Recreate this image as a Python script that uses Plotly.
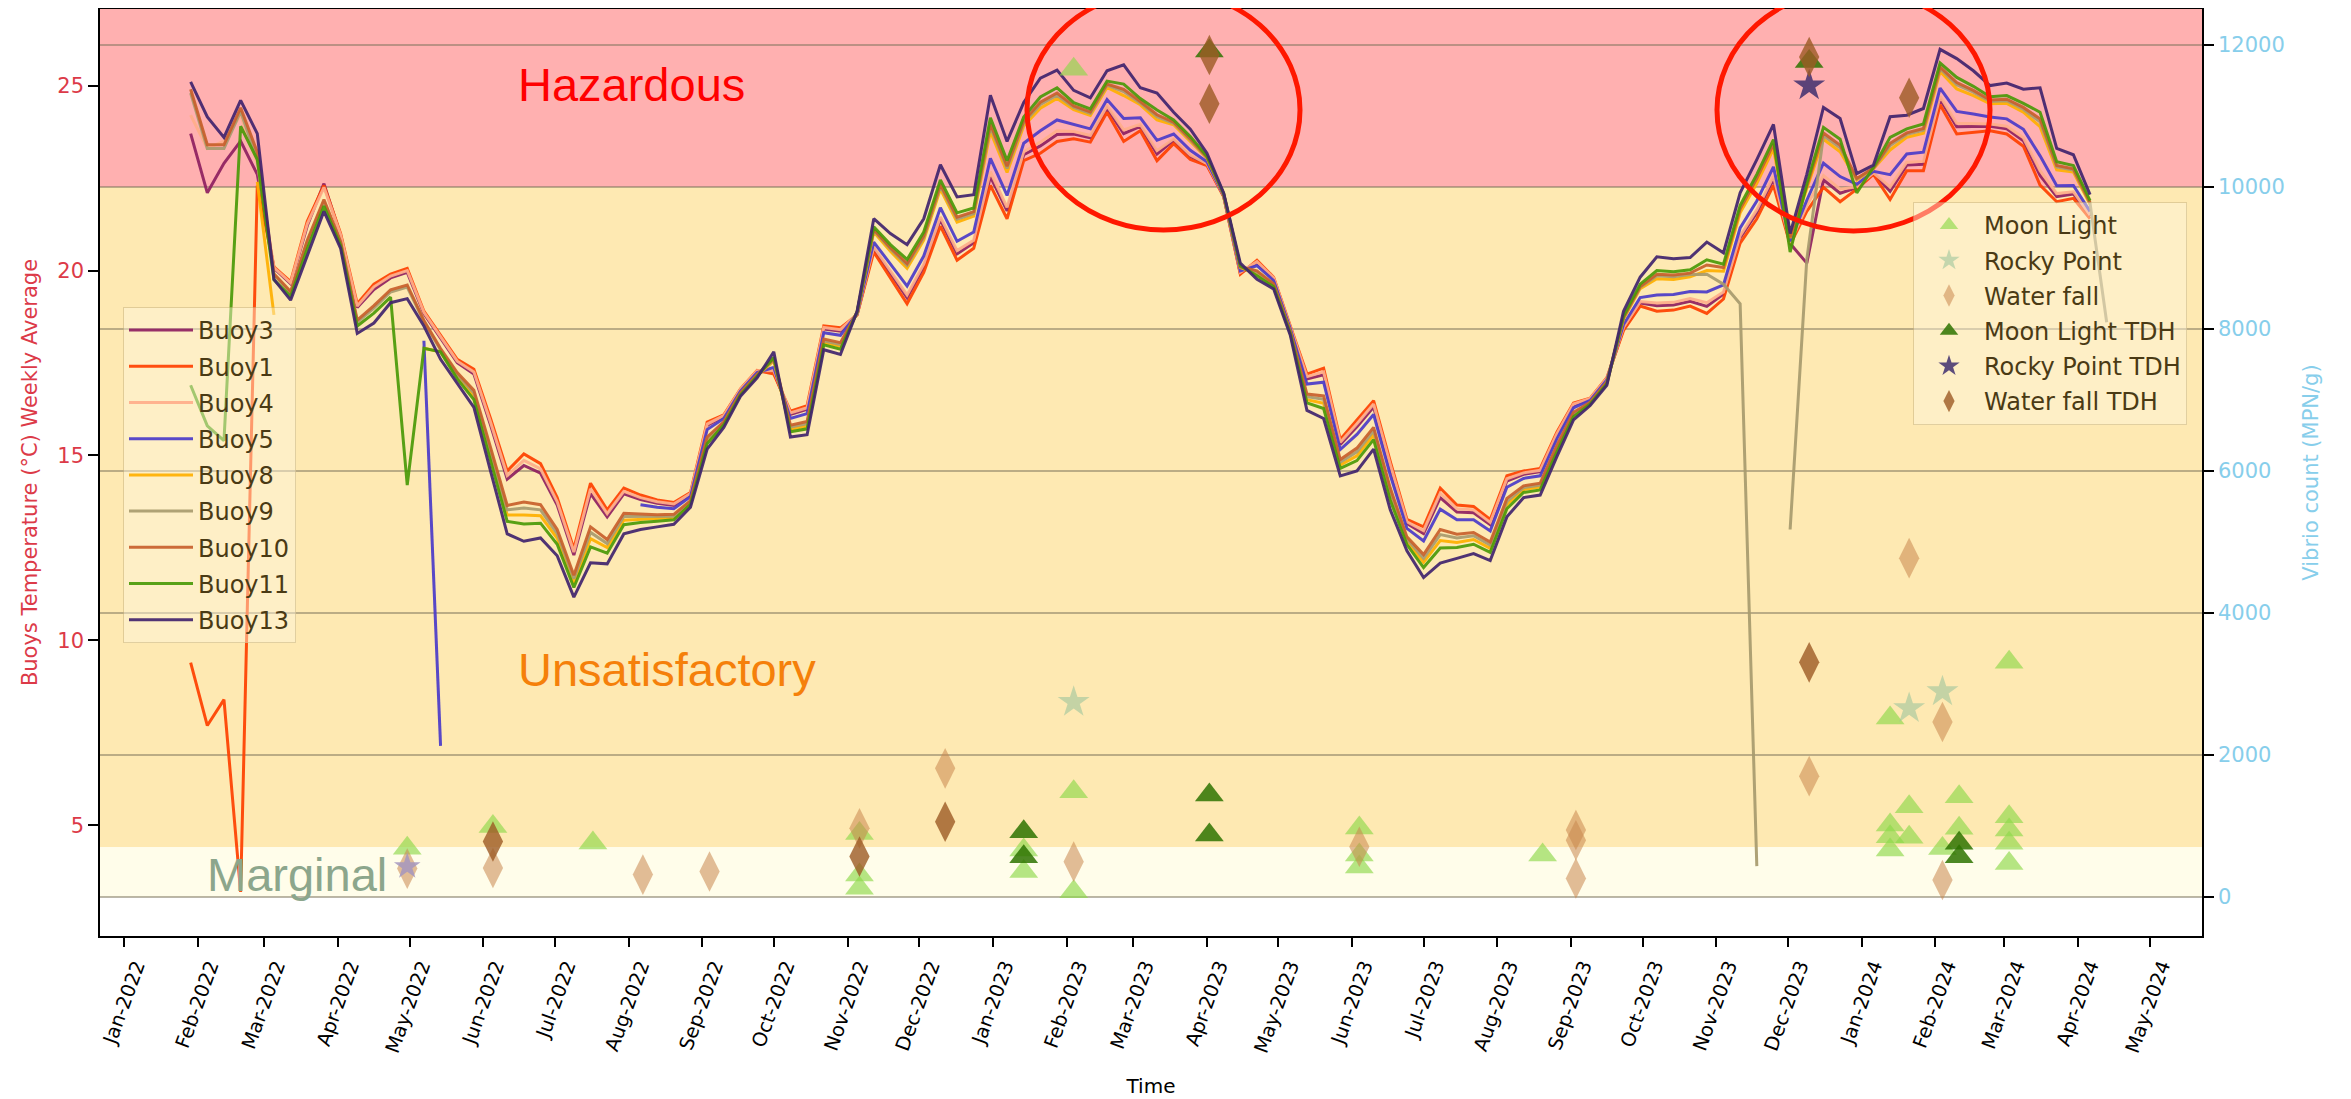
import plotly.graph_objects as go
import pandas as pd

# ---------------- data ----------------
weeks = pd.date_range("2022-01-29", periods=116, freq="7D")

buoy3 = [23.7, 22.1, 22.9, 23.5, 22.6, 20.06, 19.64, 21.21, 22.35, 20.95,
         19.0, 19.49, 19.8, 19.95, 18.84, 18.17, 17.51, 17.2, 15.82, 14.36,
         14.73, 14.52, 13.66, 12.31, 13.97, 13.34, 13.96, 13.81, 13.71, 13.65,
         13.95, 15.81, 16.06, 16.77, 17.27, 17.26, 16.11, 16.25, 18.42, 18.36,
         18.81, 20.59, 19.92, 19.26, 20.1, 21.37, 20.45, 20.75, 22.54, 21.61,
         23.13, 23.37, 23.68, 23.69, 23.59, 24.39, 23.7, 23.9, 23.15, 23.52,
         23.08, 22.87, 22.01, 19.93, 20.21, 19.78, 18.47, 17.07, 17.18, 15.3,
         15.78, 16.31, 14.67, 13.16, 12.89, 13.86, 13.47, 13.45, 13.13, 14.31,
         14.49, 14.56, 15.54, 16.36, 16.52, 17.07, 18.43, 19.12, 19.05, 19.07,
         19.17, 19.03, 19.36, 20.88, 21.56, 22.47, 20.73, 20.2, 22.45, 22.09,
         22.24, 22.63, 22.14, 22.85, 22.87, 24.63, 23.89, 23.9, 23.9, 23.83,
         23.51, 22.57, 22.0, 22.07, 21.47, None]

buoy1 = [9.4, 7.7, 8.4, 3.2, 22.3, 20.1, 19.7, 21.33, 22.3, 21.0,
         19.1, 19.63, 19.9, 20.06, 18.9, 18.25, 17.6, 17.33, 16.0, 14.58,
         15.04, 14.78, 13.86, 12.48, 14.25, 13.53, 14.12, 13.93, 13.8, 13.73,
         14.0, 15.9, 16.1, 16.8, 17.3, 17.2, 16.2, 16.35, 18.5, 18.45,
         18.8, 20.5, 19.8, 19.1, 19.95, 21.2, 20.28, 20.6, 22.3, 21.4,
         22.97, 23.17, 23.49, 23.56, 23.47, 24.28, 23.49, 23.78, 22.97, 23.43,
         23.0, 22.84, 22.0, 19.9, 20.28, 19.82, 18.5, 17.2, 17.36, 15.43,
         15.96, 16.48, 14.84, 13.27, 13.07, 14.12, 13.66, 13.62, 13.27, 14.45,
         14.58, 14.65, 15.63, 16.42, 16.55, 17.1, 18.38, 19.04, 18.9, 18.93,
         19.04, 18.84, 19.23, 20.74, 21.4, 22.3, 20.7, 21.6, 22.25, 21.86,
         22.2, 22.6, 21.92, 22.7, 22.7, 24.48, 23.69, 23.73, 23.78, 23.69,
         23.36, 22.31, 21.86, 21.95, 21.4, None]

buoy4 = [24.2, 23.3, 23.5, 24.2, 22.9, 20.08, 19.67, 21.26, 22.25, 20.97,
         19.04, 19.56, 19.85, 20.0, 18.87, 18.2, 17.55, 17.26, 15.9, 14.46,
         14.87, 14.64, 13.75, 12.39, 14.1, 13.43, 14.03, 13.86, 13.75, 13.69,
         13.97, 15.85, 16.08, 16.79, 17.29, 17.29, 16.15, 16.29, 18.46, 18.4,
         18.82, 20.64, 19.98, 19.34, 20.17, 21.45, 20.54, 20.82, 22.67, 21.71,
         23.21, 23.47, 23.78, 23.76, 23.65, 24.45, 23.8, 23.95, 23.24, 23.56,
         23.12, 22.89, 22.02, 19.95, 20.24, 19.8, 18.48, 17.13, 17.26, 15.36,
         15.86, 16.39, 14.75, 13.21, 12.97, 13.98, 13.56, 13.53, 13.19, 14.37,
         14.53, 14.6, 15.58, 16.39, 16.54, 17.09, 18.46, 19.16, 19.12, 19.14,
         19.24, 19.13, 19.42, 20.94, 21.64, 22.55, 20.75, 21.75, 22.57, 22.2,
         22.26, 22.64, 22.26, 22.93, 22.95, 24.71, 23.98, 23.98, 23.96, 23.9,
         23.59, 22.7, 22.08, 22.13, 21.5, None]

buoy5 = [None, None, None, None, None, None, None, None, None, None,
         None, None, None, None, 18.1, 7.15, None, None, None, None,
         None, None, None, None, None, None, None, 13.67, 13.6, 13.56,
         13.89, 15.7, 16.0, 16.74, 17.24, 17.38, 16.0, 16.13, 18.32, 18.25,
         18.83, 20.77, 20.16, 19.58, 20.39, 21.7, 20.79, 21.04, 23.03, 22.03,
         23.44, 23.78, 24.07, 23.95, 23.83, 24.62, 24.11, 24.13, 23.52, 23.69,
         23.25, 22.94, 22.03, 19.99, 20.13, 19.73, 18.43, 16.93, 16.98, 15.16,
         15.57, 16.11, 14.47, 13.03, 12.69, 13.55, 13.26, 13.26, 12.96, 14.14,
         14.38, 14.45, 15.45, 16.29, 16.49, 17.04, 18.54, 19.27, 19.34, 19.35,
         19.43, 19.42, 19.61, 21.15, 21.88, 22.8, 20.79, 21.9, 22.9, 22.54,
         22.33, 22.68, 22.59, 23.15, 23.2, 24.93, 24.3, 24.23, 24.15, 24.1,
         23.82, 23.1, 22.29, 22.3, 21.6, None]

buoy8 = [None, None, None, None, 22.4, 18.8, None, None, None, None,
         None, None, None, None, 17.9, 17.8, 17.14, 16.61, 15.01, 13.39,
         13.39, 13.37, 12.76, 11.56, 12.75, 12.51, 13.25, 13.28, 13.29, 13.32,
         13.72, 15.39, 15.86, 16.66, 17.16, 17.56, 15.71, 15.8, 18.05, 17.95,
         18.86, 21.04, 20.52, 20.06, 20.82, 22.2, 21.31, 21.47, 23.76, 22.65,
         23.91, 24.39, 24.65, 24.35, 24.19, 24.95, 24.73, 24.48, 24.07, 23.94,
         23.49, 23.04, 22.06, 20.08, 19.92, 19.6, 18.33, 16.51, 16.41, 14.74,
         14.99, 15.56, 13.92, 12.68, 12.11, 12.7, 12.65, 12.73, 12.49, 13.67,
         14.08, 14.15, 15.17, 16.1, 16.41, 16.96, 18.69, 19.51, 19.78, 19.76,
         19.83, 20.0, 19.98, 21.56, 22.36, 23.29, 20.88, 22.2, 23.55, 23.21,
         22.45, 22.75, 23.26, 23.6, 23.71, 25.38, 24.91, 24.73, 24.51, 24.52,
         24.28, 23.89, 22.72, 22.66, 21.79, None]

buoy9 = [24.8, 23.3, 23.3, 24.3, 23.0, 19.89, 19.39, 20.75, 21.87, 20.75,
         18.6, 18.98, 19.42, 19.55, 18.62, 17.85, 17.19, 16.69, 15.12, 13.53,
         13.58, 13.53, 12.89, 11.67, 12.92, 12.62, 13.35, 13.35, 13.35, 13.36,
         13.75, 15.45, 15.89, 16.68, 17.18, 17.59, 15.77, 15.86, 18.1, 18.0,
         18.87, 21.09, 20.58, 20.14, 20.89, 22.28, 21.39, 21.54, 23.89, 22.76,
         23.99, 24.49, 24.74, 24.41, 24.25, 25.01, 24.84, 24.53, 24.16, 23.98,
         23.53, 23.05, 22.07, 20.1, 19.96, 19.62, 18.35, 16.59, 16.52, 14.82,
         15.1, 15.67, 14.03, 12.74, 12.22, 12.86, 12.77, 12.83, 12.58, 13.76,
         14.13, 14.2, 15.22, 16.13, 16.43, 16.98, 18.72, 19.55, 19.86, 19.83,
         19.89, 19.9, 19.63, 19.1, 3.9, None, 13.0, 20.3, 23.65, 23.32,
         22.47, 22.76, 23.38, 23.68, 23.79, 25.46, 25.02, 24.82, 24.57, 24.59,
         24.36, 24.02, 22.8, 22.72, 21.82, 18.6]

buoy10 = [24.9, 23.4, 23.4, 24.4, 23.2, 19.91, 19.43, 20.82, 21.92, 20.78,
          18.66, 19.05, 19.48, 19.61, 18.65, 17.89, 17.24, 16.76, 15.22, 13.65,
          13.74, 13.67, 13.0, 11.76, 13.07, 12.73, 13.44, 13.42, 13.4, 13.41,
          13.78, 15.5, 15.91, 16.69, 17.19, 17.61, 15.82, 15.92, 18.15, 18.05,
          18.87, 21.11, 20.62, 20.19, 20.94, 22.33, 21.44, 21.59, 23.96, 22.82,
          24.04, 24.55, 24.8, 24.45, 24.29, 25.04, 24.9, 24.57, 24.21, 24.01,
          23.56, 23.06, 22.07, 20.1, 19.99, 19.64, 18.36, 16.66, 16.61, 14.89,
          15.2, 15.76, 14.12, 12.8, 12.32, 13.0, 12.87, 12.92, 12.66, 13.84,
          14.18, 14.25, 15.27, 16.17, 16.44, 16.99, 18.73, 19.57, 19.9, 19.88,
          19.93, 20.15, 20.08, 21.66, 22.49, 23.42, 20.9, 22.28, 23.72, 23.39,
          22.49, 22.77, 23.44, 23.72, 23.84, 25.5, 25.08, 24.87, 24.61, 24.63,
          24.41, 24.1, 22.84, 22.75, 21.84, None]

buoy11 = [16.9, 15.8, 15.4, 23.9, 23.0, 19.75, 19.3, 20.59, 21.74, 20.68,
          18.5, 18.85, 19.28, 14.2, 17.9, 17.8, 17.07, 16.51, 14.86, 13.22,
          13.15, 13.17, 12.6, 11.43, 12.53, 12.36, 13.13, 13.19, 13.22, 13.26,
          13.68, 15.32, 15.83, 16.64, 17.14, 17.65, 15.64, 15.72, 17.99, 17.87,
          18.88, 21.18, 20.7, 20.3, 21.04, 22.45, 21.56, 21.69, 24.13, 22.97,
          24.15, 24.69, 24.94, 24.54, 24.37, 25.12, 25.04, 24.65, 24.34, 24.07,
          23.62, 23.09, 22.08, 20.13, 19.86, 19.56, 18.3, 16.42, 16.27, 14.65,
          14.86, 15.43, 13.79, 12.59, 11.97, 12.5, 12.51, 12.6, 12.38, 13.56,
          14.0, 14.07, 15.1, 16.05, 16.39, 16.94, 18.77, 19.63, 20.0, 19.97,
          20.02, 20.29, 20.17, 21.76, 22.6, 23.54, 20.5, 22.35, 23.87, 23.55,
          22.1, 22.79, 23.6, 23.83, 23.96, 25.61, 25.22, 24.98, 24.7, 24.73,
          24.52, 24.28, 22.94, 22.84, 21.89, None]

buoy13 = [25.1, 24.15, 23.6, 24.6, 23.7, 19.76, 19.2, 20.4, 21.6, 20.6,
          18.3, 18.58, 19.13, 19.24, 18.5, 17.6, 16.94, 16.3, 14.58, 12.88,
          12.68, 12.77, 12.29, 11.17, 12.1, 12.07, 12.88, 13.0, 13.07, 13.14,
          13.6, 15.17, 15.76, 16.6, 17.1, 17.8, 15.5, 15.56, 17.86, 17.73,
          18.9, 21.4, 21.0, 20.7, 21.4, 22.86, 21.99, 22.05, 24.74, 23.49,
          24.54, 25.2, 25.42, 24.87, 24.67, 25.4, 25.56, 24.94, 24.8, 24.28,
          23.82, 23.17, 22.1, 20.2, 19.76, 19.5, 18.25, 16.22, 16.0, 14.45,
          14.58, 15.17, 13.53, 12.42, 11.7, 12.09, 12.22, 12.35, 12.16, 13.34,
          13.86, 13.93, 14.97, 15.96, 16.35, 16.9, 18.9, 19.82, 20.37, 20.32,
          20.35, 20.77, 20.48, 22.1, 23.0, 23.95, 21.0, 22.6, 24.41, 24.11,
          22.62, 22.85, 24.16, 24.2, 24.38, 25.98, 25.73, 25.4, 25.0, 25.07,
          24.9, 24.94, 23.3, 23.13, 22.05, None]

buoy_names = ["Buoy3", "Buoy1", "Buoy4", "Buoy5", "Buoy8", "Buoy9", "Buoy10", "Buoy11", "Buoy13"]
buoy_series = [buoy3, buoy1, buoy4, buoy5, buoy8, buoy9, buoy10, buoy11, buoy13]
buoy_colors = ["#8F2060", "#FF4000", "#FFAE8A", "#4B3BC9", "#FFB000",
               "#A89B6E", "#C8602C", "#4A9A08", "#41246E"]

# Vibrio counts (MPN/g)
moon_dates = ["2022-04-30", "2022-06-05", "2022-07-17", "2022-11-06", "2022-11-06", "2022-11-06",
              "2023-01-14", "2023-01-14", "2023-02-04", "2023-02-04", "2023-02-04",
              "2023-06-04", "2023-06-04", "2023-06-04", "2023-08-20",
              "2024-01-13", "2024-01-13", "2024-01-13", "2024-01-13", "2024-01-21", "2024-01-21",
              "2024-02-04", "2024-02-11", "2024-02-11",
              "2024-03-03", "2024-03-03", "2024-03-03", "2024-03-03", "2024-03-03"]
moon_vals = [686, 993, 760, 896, 310, 122,
             662, 358, 11658, 1483, 75,
             971, 591, 422, 591,
             2520, 1014, 849, 662, 1272, 841,
             685, 1413, 967,
             3305, 1132, 944, 756, 473]

rocky_dates = ["2023-02-04", "2024-01-21", "2024-02-04"]
rocky_vals = [2745, 2657, 2894]

water_dates = ["2022-04-30", "2022-06-05", "2022-08-07", "2022-09-04", "2022-11-06", "2022-12-12",
               "2023-02-04", "2023-06-04", "2023-09-03", "2023-09-03", "2023-09-03",
               "2023-12-10", "2024-01-21", "2024-02-04", "2024-02-04"]
water_vals = [400, 408, 316, 359, 967, 1812,
              498, 709, 944, 800, 262,
              1702, 4773, 2466, 239]

moon_tdh_dates = ["2023-01-14", "2023-01-14", "2023-04-02", "2023-04-02", "2023-04-02",
                  "2023-12-10", "2024-02-11", "2024-02-11"]
moon_tdh_vals = [920, 568, 11915, 1436, 873, 11767, 756, 568]

rocky_tdh_dates = ["2023-12-10", "2022-04-30"]
rocky_tdh_vals = [11428, 430]

water_tdh_dates = ["2022-06-05", "2022-11-06", "2022-12-12", "2023-04-02", "2023-04-02",
                   "2023-12-10", "2023-12-10", "2024-01-21"]
water_tdh_vals = [781, 570, 1060, 11860, 11174, 11830, 3305, 11256]

# thresholds on the Vibrio axis
hazard_level = 10000
marginal_level = 700

# ---------------- figure ----------------
# the page adds an 8px body margin; the figure is sized/offset so the plot
# area lands where the reference has it
PAGE_OFF = 8
W, H = 2351 - PAGE_OFF, 1099 - PAGE_OFF
L, R, T, B = 100 - PAGE_OFF, 149, 9 - PAGE_OFF, 163
pw, ph = W - L - R, H - T - B


def px(x):
    """page pixel x -> paper coordinate"""
    return (x - PAGE_OFF - L) / pw


def py(y):
    """page pixel y -> paper coordinate"""
    return 1 - (y - PAGE_OFF - T) / ph


fig = go.Figure()

for name, vals, col in zip(buoy_names, buoy_series, buoy_colors):
    fig.add_trace(go.Scatter(
        x=weeks, y=vals, mode="lines", name=name,
        line=dict(color=col, width=3), opacity=0.92,
        legend="legend", legendgroup=name, connectgaps=False,
        hoverinfo="skip"))

markers = [
    ("Moon Light", moon_dates, moon_vals, "triangle-up", "#8ED84A", 0.65, 25),
    ("Rocky Point", rocky_dates, rocky_vals, "star", "#9CC49C", 0.6, 24),
    ("Water fall", water_dates, water_vals, "diamond-tall", "#C8874E", 0.55, 29),
    ("Moon Light TDH", moon_tdh_dates, moon_tdh_vals, "triangle-up", "#2E7300", 0.85, 25),
    ("Rocky Point TDH", rocky_tdh_dates, rocky_tdh_vals, "star", "#3F2F6E", 0.85, 24),
    ("Water fall TDH", water_tdh_dates, water_tdh_vals, "diamond-tall", "#9C5A24", 0.8, 29),
]
for name, dts, vals, sym, col, op, sz in markers:
    fig.add_trace(go.Scatter(
        x=pd.to_datetime(dts), y=vals, mode="markers", name=name, yaxis="y2",
        marker=dict(symbol=sym, color=col, size=sz, opacity=op, line=dict(width=0)),
        legend="legend2", legendgroup=name, hoverinfo="skip"))

# the early (May 2022) Rocky Point TDH star is drawn faint in the reference
fig.data[-2].marker.color = ["#3F2F6E", "#A597BE"]
fig.data[-2].marker.size = [24, 20]

shapes = [
    dict(type="rect", xref="paper", yref="y2", x0=0, x1=1, y0=hazard_level, y1=12507,
         fillcolor="#FFB0B0", line=dict(width=0), layer="below"),
    dict(type="rect", xref="paper", yref="y2", x0=0, x1=1, y0=marginal_level, y1=hazard_level,
         fillcolor="#FEE9B2", line=dict(width=0), layer="below"),
    dict(type="rect", xref="paper", yref="y2", x0=0, x1=1, y0=0, y1=marginal_level,
         fillcolor="#FFFDEA", line=dict(width=0), layer="below"),
    # highlight ellipses
    dict(type="circle", xref="paper", yref="paper",
         x0=px(1027), x1=px(1300), y0=py(230), y1=py(-10),
         line=dict(color="#FF1800", width=5)),
    dict(type="circle", xref="paper", yref="paper",
         x0=px(1717), x1=px(1990), y0=py(231), y1=py(-11),
         line=dict(color="#FF1800", width=5)),
]

band_font = "Liberation Sans, Arial, sans-serif"
annotations = [
    dict(text="Hazardous", xref="paper", yref="paper", x=px(516), y=py(84),
         xanchor="left", yanchor="middle", showarrow=False,
         font=dict(family=band_font, size=47, color="#FF0000")),
    dict(text="Unsatisfactory", xref="paper", yref="paper", x=px(516), y=py(669),
         xanchor="left", yanchor="middle", showarrow=False,
         font=dict(family=band_font, size=47, color="#F5800A")),
    dict(text="Marginal", xref="paper", yref="paper", x=px(205), y=py(874),
         xanchor="left", yanchor="middle", showarrow=False,
         font=dict(family=band_font, size=47, color="#8CA68C")),
]

base_font = "DejaVu Sans, sans-serif"
temp_color = "#DC3A48"
vib_color = "#87CEEB"

fig.update_layout(
    width=W, height=H,
    margin=dict(l=L, r=R, t=T, b=B),
    paper_bgcolor="white", plot_bgcolor="white",
    font=dict(family=base_font, size=21, color="black"),
    shapes=shapes, annotations=annotations,
    showlegend=True,
    xaxis=dict(
        type="date", range=["2021-12-21 22:00", "2024-05-23 01:00"],
        tickformat="%b-%Y", dtick="M1", tick0="2022-01-01", tickangle=-70,
        ticks="outside", ticklen=9, tickwidth=1.5, tickcolor="black",
        ticklabelshift=12,
        showline=True, linecolor="black", linewidth=1.5, mirror=True,
        showgrid=False, zeroline=False, automargin=False,
        tickfont=dict(family=base_font, size=19.5, color="black"),
        title=dict(text="Time", font=dict(family=base_font, size=20, color="black"), standoff=24),
    ),
    yaxis=dict(
        range=[2.01, 27.07], tickvals=[5, 10, 15, 20, 25],
        ticks="outside", ticklen=10, tickwidth=1.5, tickcolor="black",
        showline=True, linecolor="black", linewidth=1.5,
        showgrid=False, zeroline=False, automargin=False,
        tickfont=dict(family=base_font, size=21, color=temp_color),
        title=dict(text="Buoys Temperature (°C) Weekly Average",
                   font=dict(family=base_font, size=21, color=temp_color), standoff=14),
    ),
    yaxis2=dict(
        overlaying="y", side="right", range=[-549, 12507],
        tickvals=[0, 2000, 4000, 6000, 8000, 10000, 12000], tickformat="d",
        ticks="outside", ticklen=10, tickwidth=1.5, tickcolor="black",
        showline=True, linecolor="black", linewidth=1.5,
        showgrid=True, gridcolor="rgba(120,112,88,0.5)", gridwidth=1.5,
        zeroline=False, automargin=False,
        tickfont=dict(family=base_font, size=21, color=vib_color),
        title=dict(text="Vibrio count (MPN/g)",
                   font=dict(family=base_font, size=21, color=vib_color), standoff=20),
    ),
    legend=dict(
        x=px(123), y=py(307), xanchor="left", yanchor="top",
        bgcolor="rgba(255,246,222,0.45)", bordercolor="rgba(200,180,130,0.55)", borderwidth=1,
        font=dict(family=base_font, size=24, color="#4A3A14"),
        tracegroupgap=2, itemwidth=64,
    ),
    legend2=dict(
        x=px(1913), y=py(202), xanchor="left", yanchor="top",
        bgcolor="rgba(255,246,222,0.45)", bordercolor="rgba(200,180,130,0.55)", borderwidth=1,
        font=dict(family=base_font, size=24, color="#4A3A14"),
        tracegroupgap=1, itemwidth=60,
    ),
)

fig.write_html("out.html")
